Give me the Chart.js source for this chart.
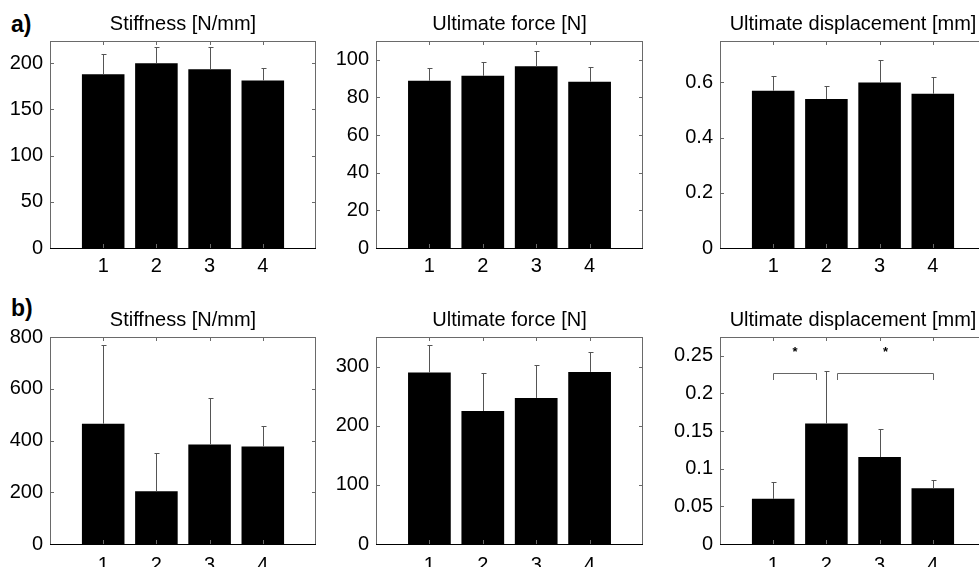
<!DOCTYPE html>
<html>
<head>
<meta charset="utf-8">
<script src="https://cdn.jsdelivr.net/npm/chart.js@4.4.0/dist/chart.umd.min.js"></script>
<style>
  body { margin: 0; width: 979px; height: 567px; overflow: hidden; background: #fff; position: relative;
         font-family: "Liberation Sans", Arial, sans-serif; }
  canvas { position: absolute; }
  .tag { position: absolute; font-weight: bold; font-size: 23px; line-height: 1; color: #000; }
</style>
</head>
<body>
<div class="tag" style="left:11px; top:13px">a)</div>
<div class="tag" style="left:11px; top:297px">b)</div>
<canvas id="c1"></canvas>
<canvas id="c2"></canvas>
<canvas id="c3"></canvas>
<canvas id="c4"></canvas>
<canvas id="c5"></canvas>
<canvas id="c6"></canvas>
<script>
const groups = [1, 2, 3, 4];

// row a)
const stiffnessA = [188, 200, 193.5, 181.3];
const stiffnessAErr = [22, 17, 24.5, 13];
const forceA = [88.9, 91.5, 96.6, 88.4];
const forceAErr = [6.7, 7.1, 8, 7.7];
const dispA = [0.57, 0.54, 0.6, 0.559];
const dispAErr = [0.053, 0.048, 0.081, 0.06];

// row b)
const stiffnessB = [465, 204, 385, 377];
const stiffnessBErr = [304, 147, 180, 79];
const forceB = [290, 225, 247, 291];
const forceBErr = [46.5, 64, 56, 34];
const dispB = [0.06, 0.16, 0.1155, 0.074];
const dispBErr = [0.022, 0.07, 0.037, 0.011];

// tick labels
const ticksStiffA = [0, 50, 100, 150, 200];
const ticksForceA = [0, 20, 40, 60, 80, 100];
const ticksDispA = [0, 0.2, 0.4, 0.6];
const ticksStiffB = [0, 200, 400, 600, 800];
const ticksForceB = [0, 100, 200, 300];
const ticksDispB = [0, 0.05, 0.1, 0.15, 0.2, 0.25];

// significance brackets in the last panel: [from, to]
const bracketsFrom = [1, 2.2];
const bracketsTo = [1.8, 4];
const bracketLevel = 0.227;
const bracketFoot = 0.218;
const starLevel = 0.259;

const FONT = '"Liberation Sans", Arial, sans-serif';
const AXIS_W = 50;
const TITLE_H = 30;
const X_H = 34;

// box with inward ticks on all four sides
const framePlugin = {
  id: 'frame',
  afterDraw(chart) {
    const { ctx, chartArea: a, scales: { x, y } } = chart;
    ctx.save();
    ctx.lineWidth = 1;
    ctx.strokeStyle = '#6a6a6a';
    ctx.beginPath();
    x.ticks.forEach((t) => {
      const px = Math.round(x.getPixelForValue(t.value)) + 0.5;
      ctx.moveTo(px, a.bottom); ctx.lineTo(px, a.bottom - 4);
      ctx.moveTo(px, a.top); ctx.lineTo(px, a.top + 4);
    });
    y.ticks.forEach((t) => {
      const py = Math.round(y.getPixelForValue(t.value)) + 0.5;
      ctx.moveTo(a.left, py); ctx.lineTo(a.left + 4, py);
      ctx.moveTo(a.right, py); ctx.lineTo(a.right - 4, py);
    });
    ctx.stroke();
    ctx.strokeRect(a.left + 0.5, a.top + 0.5, a.right - a.left - 1, a.bottom - a.top);
    ctx.strokeStyle = '#000';
    ctx.beginPath();
    ctx.moveTo(a.left, a.bottom + 0.5);
    ctx.lineTo(a.right, a.bottom + 0.5);
    ctx.stroke();
    ctx.restore();
  },
};

// upper error bars with a small cap
const errorPlugin = {
  id: 'errors',
  afterDatasetsDraw(chart) {
    const { ctx, scales: { y } } = chart;
    const ds = chart.data.datasets[0];
    const bars = chart.getDatasetMeta(0).data;
    ctx.save();
    ctx.strokeStyle = '#555';
    ctx.lineWidth = 1;
    ctx.beginPath();
    bars.forEach((bar, i) => {
      const px = Math.round(bar.x) + 0.5;
      const top = Math.round(y.getPixelForValue(ds.means[i] + ds.errors[i])) + 0.5;
      ctx.moveTo(px, bar.y);
      ctx.lineTo(px, top);
      ctx.moveTo(px - 2, top);
      ctx.lineTo(px + 3, top);
    });
    ctx.stroke();
    ctx.restore();
  },
};

const bracketPlugin = {
  id: 'brackets',
  afterDatasetsDraw(chart) {
    const { ctx, scales: { x, y } } = chart;
    ctx.save();
    ctx.strokeStyle = '#666';
    ctx.lineWidth = 1;
    ctx.fillStyle = '#000';
    ctx.font = 'bold 13px ' + FONT;
    ctx.textAlign = 'center';
    ctx.textBaseline = 'middle';
    const yl = Math.round(y.getPixelForValue(bracketLevel)) + 0.5;
    const yf = Math.round(y.getPixelForValue(bracketFoot));
    bracketsFrom.forEach((from, i) => {
      const x1 = Math.round(x.getPixelForValue(from)) + 0.5;
      const x2 = Math.round(x.getPixelForValue(bracketsTo[i])) + 0.5;
      ctx.beginPath();
      ctx.moveTo(x1, yf); ctx.lineTo(x1, yl); ctx.lineTo(x2, yl); ctx.lineTo(x2, yf);
      ctx.stroke();
      ctx.fillText('*', (x1 + x2) / 2, y.getPixelForValue(starLevel) + 3);
    });
    ctx.restore();
  },
};

function makePanel(id, plotLeft, plotTop, plotW, plotH, title, means, errors, yTicks, yMax, xPad, extra) {
  const canvas = document.getElementById(id);
  canvas.width = plotW + AXIS_W + 2;
  canvas.height = plotH + TITLE_H + X_H;
  canvas.style.left = (plotLeft - AXIS_W) + 'px';
  canvas.style.top = (plotTop - TITLE_H) + 'px';

  const plugins = [framePlugin, errorPlugin];
  if (extra) plugins.push(extra);

  new Chart(canvas, {
    type: 'bar',
    data: {
      datasets: [
        {
          data: groups.map((g, i) => ({ x: g, y: means[i] })),
          means: means,
          errors: errors,
          backgroundColor: '#000',
          borderWidth: 0,
          barPercentage: 0.8,
          categoryPercentage: 1,
        },
      ],
    },
    options: {
      responsive: false,
      animation: false,
      events: [],
      layout: { padding: { top: 1, right: 2, left: 0, bottom: 0 } },
      plugins: {
        legend: { display: false },
        tooltip: { enabled: false },
        title: {
          display: true,
          text: title,
          fullSize: false,
          color: '#000',
          font: { family: FONT, size: 20, weight: 'normal', lineHeight: 1.2 },
          padding: { top: 0, bottom: 5 },
        },
      },
      scales: {
        x: {
          type: 'linear',
          min: 0,
          max: 5,
          offset: false,
          grid: { display: false, drawTicks: false },
          border: { display: false },
          ticks: { padding: xPad, color: '#000', font: { family: FONT, size: 20 } },
          afterBuildTicks: (s) => { s.ticks = groups.map((v) => ({ value: v })); },
          afterFit: (s) => { s.height = X_H; },
        },
        y: {
          min: 0,
          max: yMax,
          grid: { display: false, drawTicks: false },
          border: { display: false },
          ticks: {
            padding: 7,
            color: '#000',
            font: { family: FONT, size: 20 },
            callback: (v) => String(v),
          },
          afterBuildTicks: (s) => { s.ticks = yTicks.map((v) => ({ value: v })); },
          afterFit: (s) => { s.width = AXIS_W; },
        },
      },
    },
    plugins: plugins,
  });
}

makePanel('c1', 50, 41, 266, 207, 'Stiffness [N/mm]', stiffnessA, stiffnessAErr, ticksStiffA, 224, 6);
makePanel('c2', 376, 41, 267, 207, 'Ultimate force [N]', forceA, forceAErr, ticksForceA, 110, 6);
makePanel('c3', 720, 41, 266, 207, 'Ultimate displacement [mm]', dispA, dispAErr, ticksDispA, 0.75, 6);
makePanel('c4', 50, 337, 266, 207, 'Stiffness [N/mm]', stiffnessB, stiffnessBErr, ticksStiffB, 800, 9);
makePanel('c5', 376, 337, 267, 207, 'Ultimate force [N]', forceB, forceBErr, ticksForceB, 350, 9);
makePanel('c6', 720, 337, 266, 207, 'Ultimate displacement [mm]', dispB, dispBErr, ticksDispB, 0.275, 9, bracketPlugin);
</script>
</body>
</html>
